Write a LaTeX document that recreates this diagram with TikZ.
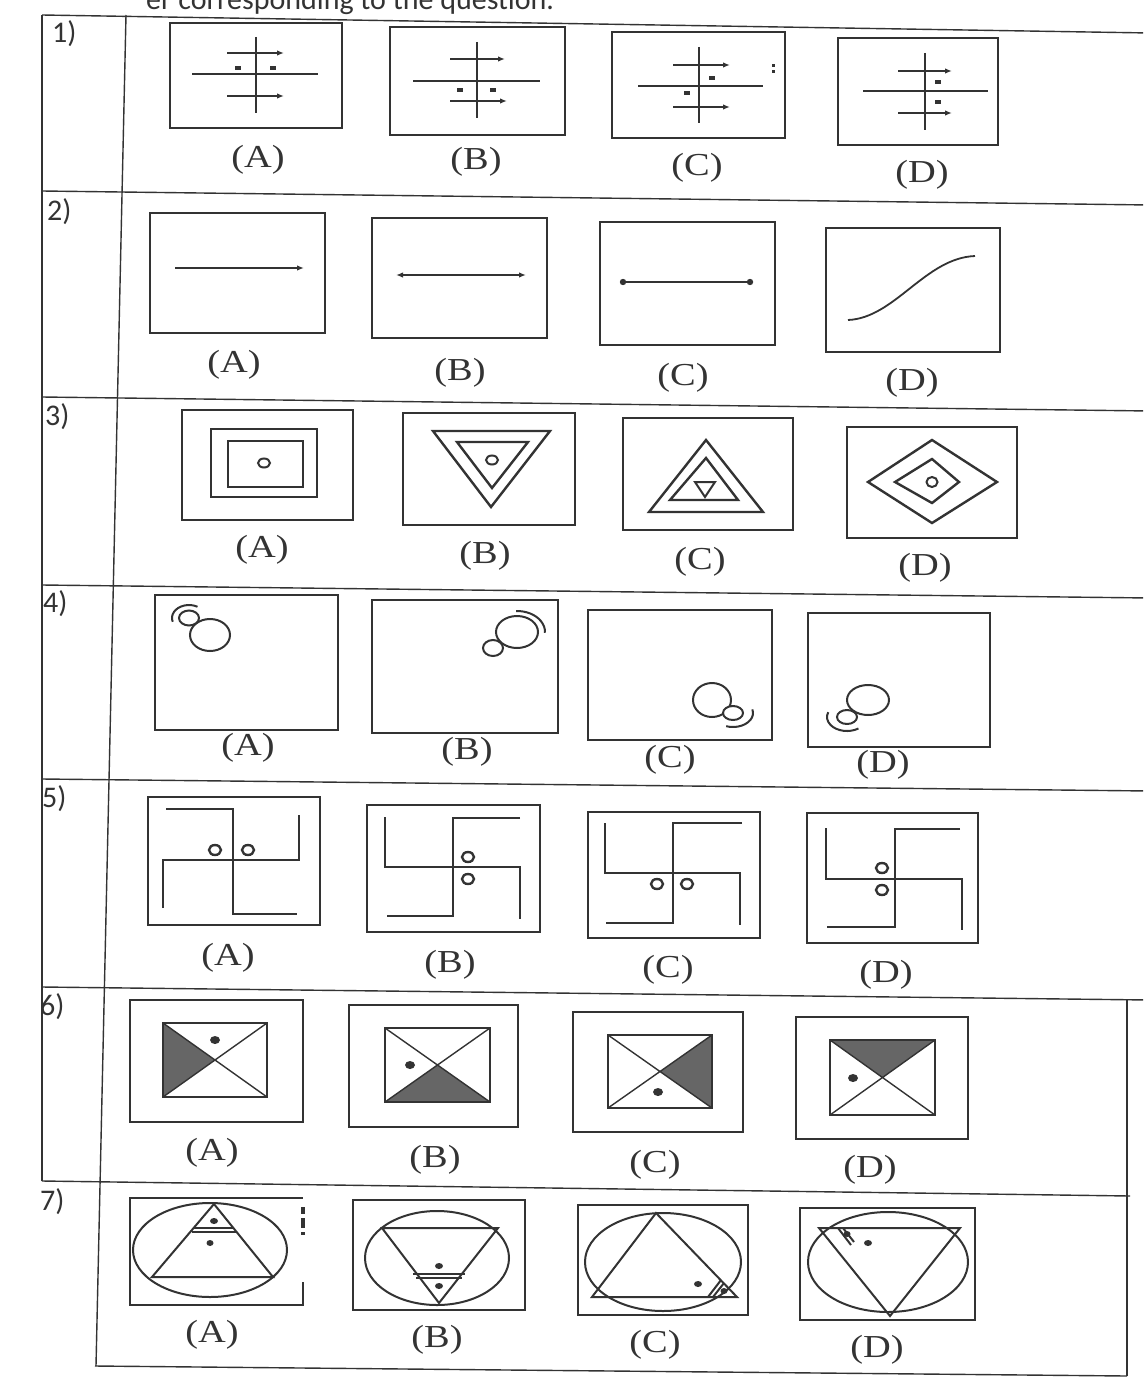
\documentclass[tikz,border=0pt]{standalone}
\usepackage{fontspec}
\setmainfont{Liberation Serif}
\newfontfamily\qfont{Carlito}
\usetikzlibrary{arrows.meta}

\tikzset{
  grid line/.style={draw=black!80, line width=1.4pt},
  frame/.style={draw=black!80, line width=2.3pt},
  fig/.style={draw=black!80, line width=2pt},
  tip/.style={-{Latex[length=7pt,width=5.5pt]}},
  spot/.style={fill=black!80},
  optlabel/.style={font=\fontsize{32}{32}\selectfont, text=black!80, xscale=1.2},
  rownum/.style={font=\qfont\fontsize{30}{30}\selectfont, anchor=north west, text=black!80, inner sep=0pt},
}

\begin{document}
\begin{tikzpicture}[x=1pt,y=-1pt]
\useasboundingbox (0,0) rectangle (1143,1389);
\begin{scope}
\clip (0,0) rectangle (1143,1389);

% --- HEADER ---
\node[font=\qfont\fontsize{30}{30}\selectfont, anchor=base west, text=black!80, inner sep=0pt] (head) at (146,10) {er corresponding to the question.};

% --- TABLE ---
 % rows
  \draw[grid line] (42,15) -- (1150,33);
  \draw[grid line] (42,191) -- (1150,205);
  \draw[grid line] (42,397) -- (1150,411);
  \draw[grid line] (42,585) -- (1150,598);
  \draw[grid line] (42,779) -- (1150,791);
  \draw[grid line] (42,987) -- (1150,1000);
  \draw[grid line] (42,1181) -- (1130,1196);
  \draw[grid line] (95,1366) -- (1127,1376);
 % columns
  \draw[grid line] (42,15) -- (42,1181);
  \draw[grid line] (126,15) -- (96,1366);
  \draw[grid line] (1127,1000) -- (1127,1376);

  % row numbers
  \foreach \n/\x/\y in {1/52/20, 2/47/198, 3/45/403, 4/43/590, 5/42/785, 6/40/993, 7/40/1188}
    \node[rownum] (num\n) at (\x,\y) {\n)};

% --- ROW 1 ---
 % frames
  \draw[frame] (170,23) rectangle (342,128);
  \draw[frame] (390,27) rectangle (565,135);
  \draw[frame] (612,32) rectangle (785,138);
  \draw[frame] (838,38) rectangle (998,145);
 % A
  \draw[fig] (256,37) -- (256,113);
  \draw[fig] (192,74) -- (318,74);
  \draw[fig, tip] (227,53) -- (284,53);
  \draw[fig, tip] (227,96) -- (284,96);
  \fill[spot] (235,66) rectangle (241,70);
  \fill[spot] (270,66) rectangle (276,70);
 % B
  \draw[fig] (477,42) -- (477,118);
  \draw[fig] (413,81) -- (540,81);
  \draw[fig, tip] (450,59) -- (505,59);
  \draw[fig, tip] (450,101) -- (507,101);
  \fill[spot] (457,88) rectangle (463,92);
  \fill[spot] (490,88) rectangle (496,92);
 % C
  \draw[fig] (699,47) -- (699,123);
  \draw[fig] (638,86) -- (763,86);
  \draw[fig, tip] (673,65) -- (730,65);
  \draw[fig, tip] (673,107) -- (730,107);
  \fill[spot] (709,76) rectangle (715,80);
  \fill[spot] (684,91) rectangle (690,95);
  \fill[spot] (772,64) rectangle (775,67);
  \fill[spot] (772,70) rectangle (775,73);
 % D
  \draw[fig] (925,53) -- (925,130);
  \draw[fig] (863,91) -- (988,91);
  \draw[fig, tip] (898,71) -- (952,71);
  \draw[fig, tip] (898,113) -- (952,113);
  \fill[spot] (935,80) rectangle (941,84);
  \fill[spot] (935,100) rectangle (941,104);

% --- ROW 2 ---
  \draw[frame] (150,213) rectangle (325,333);
  \draw[frame] (372,218) rectangle (547,338);
  \draw[frame] (600,222) rectangle (775,345);
  \draw[frame] (826,228) rectangle (1000,352);
  \draw[fig, line width=1.6pt, tip] (175,268) -- (304,268);
  \draw[fig, line width=1.6pt, {Latex[length=7pt,width=5.5pt]}-{Latex[length=7pt,width=5.5pt]}] (396,275) -- (526,275);
  \draw[fig, line width=1.6pt] (623,282) -- (750,282);
  \fill[spot] (623,282) circle (3.2);
  \fill[spot] (750,282) circle (3.2);
  \draw[fig, line width=1.8pt] (848,320) .. controls (895,318) and (925,258) .. (975,256);

% --- ROW 3 ---
  \draw[frame] (182,410) rectangle (353,520);
  \draw[frame] (403,413) rectangle (575,525);
  \draw[frame] (623,418) rectangle (793,530);
  \draw[frame] (847,427) rectangle (1017,538);
 % A
  \draw[fig, line width=2.4pt] (211,429) rectangle (317,497);
  \draw[fig, line width=2.4pt] (228,441) rectangle (303,487);
  \draw[fig] (264,463) ellipse [x radius=6, y radius=4.5];
 % B
  \draw[fig, line width=2.4pt] (433,431) -- (550,431) -- (491,507) -- cycle;
  \draw[fig, line width=2.4pt] (457,442) -- (528,442) -- (492,488) -- cycle;
  \draw[fig] (492,460) ellipse [x radius=6, y radius=4.5];
 % C
  \draw[fig, line width=2.4pt] (706,440) -- (763,512) -- (649,512) -- cycle;
  \draw[fig, line width=2.4pt] (706,458) -- (738,500) -- (670,500) -- cycle;
  \draw[fig] (695,482) -- (715,482) -- (705,497) -- cycle;
 % D
  \draw[fig, line width=2.4pt] (868,482) -- (932,440) -- (997,482) -- (932,523) -- cycle;
  \draw[fig, line width=2.4pt] (895,482) -- (932,459) -- (959,482) -- (932,503) -- cycle;
  \draw[fig] (932,482) ellipse [x radius=5.5, y radius=5];

% --- ROW 4 ---
  \draw[frame] (155,595) rectangle (338,730);
  \draw[frame] (372,600) rectangle (558,733);
  \draw[frame] (588,610) rectangle (772,740);
  \draw[frame] (808,613) rectangle (990,747);
 % A
  \draw[fig] (210,635) ellipse [x radius=20, y radius=16];
  \draw[fig, fill=white] (189,618) ellipse [x radius=10, y radius=7.5];
  \draw[fig] ([shift={(163:17 and 13)}]189,618) arc[start angle=163, end angle=300, x radius=17, y radius=13];
 % B
  \draw[fig] (517,632) ellipse [x radius=21, y radius=16];
  \draw[fig, fill=white] (493,648) ellipse [x radius=10, y radius=8];
  \draw[fig] ([shift={(268:28 and 21)}]517,632) arc[start angle=268, end angle=362, x radius=28, y radius=21];
 % C
  \draw[fig] (712,700) ellipse [x radius=19, y radius=17];
  \draw[fig, fill=white] (733,713) ellipse [x radius=10, y radius=7];
  \draw[fig] ([shift={(-15:20 and 14)}]733,713) arc[start angle=-15, end angle=110, x radius=20, y radius=14];
 % D
  \draw[fig] (868,700) ellipse [x radius=21, y radius=15];
  \draw[fig, fill=white] (847,717) ellipse [x radius=10, y radius=7];
  \draw[fig] ([shift={(55:20 and 14)}]847,717) arc[start angle=55, end angle=200, x radius=20, y radius=14];

% --- ROW 5 ---
  \draw[frame, line width=2.8pt] (148,797) rectangle (320,925);
  \draw[frame, line width=2.8pt] (367,805) rectangle (540,932);
  \draw[frame, line width=2.8pt] (588,812) rectangle (760,938);
  \draw[frame, line width=2.8pt] (807,813) rectangle (978,943);
 % A
  \draw[fig, line width=2.6pt] (166,809) -- (233,809) -- (233,914) -- (297,914);
  \draw[fig, line width=2.6pt] (163,908) -- (163,860) -- (299,860) -- (299,815);
  \draw[fig, line width=2.4pt] (215,850) ellipse [x radius=6, y radius=5];
  \draw[fig, line width=2.4pt] (248,850) ellipse [x radius=6, y radius=5];
 % B
  \draw[fig, line width=2.6pt] (520,818) -- (453,818) -- (453,916) -- (387,916);
  \draw[fig, line width=2.6pt] (385,817) -- (385,867) -- (520,867) -- (520,919);
  \draw[fig, line width=2.4pt] (468,857) ellipse [x radius=6, y radius=5];
  \draw[fig, line width=2.4pt] (468,879) ellipse [x radius=6, y radius=5];
 % C
  \draw[fig, line width=2.6pt] (742,823) -- (673,823) -- (673,923) -- (606,923);
  \draw[fig, line width=2.6pt] (605,823) -- (605,873) -- (740,873) -- (740,925);
  \draw[fig, line width=2.4pt] (657,884) ellipse [x radius=6, y radius=5];
  \draw[fig, line width=2.4pt] (687,884) ellipse [x radius=6, y radius=5];
 % D
  \draw[fig, line width=2.6pt] (960,829) -- (895,829) -- (895,927) -- (827,927);
  \draw[fig, line width=2.6pt] (826,828) -- (826,879) -- (962,879) -- (962,930);
  \draw[fig, line width=2.4pt] (882,868) ellipse [x radius=6, y radius=5];
  \draw[fig, line width=2.4pt] (882,890) ellipse [x radius=6, y radius=5];

% --- ROW 6 ---
  \draw[frame] (130,1000) rectangle (303,1122);
  \draw[frame] (349,1005) rectangle (518,1127);
  \draw[frame] (573,1012) rectangle (743,1132);
  \draw[frame] (796,1017) rectangle (968,1139);
 % A
  \fill[black!60] (163,1023) -- (215,1060) -- (163,1097) -- cycle;
  \draw[fig] (163,1023) rectangle (267,1097);
  \draw[fig, line width=1.4pt] (163,1023) -- (267,1097) (163,1097) -- (267,1023);
  \fill[spot] (215,1040) ellipse [x radius=5, y radius=4];
 % B
  \fill[black!60] (385,1102) -- (437.5,1065) -- (490,1102) -- cycle;
  \draw[fig] (385,1028) rectangle (490,1102);
  \draw[fig, line width=1.4pt] (385,1028) -- (490,1102) (385,1102) -- (490,1028);
  \fill[spot] (410,1065) ellipse [x radius=5, y radius=4];
 % C
  \fill[black!60] (712,1035) -- (660,1071.5) -- (712,1108) -- cycle;
  \draw[fig] (608,1035) rectangle (712,1108);
  \draw[fig, line width=1.4pt] (608,1035) -- (712,1108) (608,1108) -- (712,1035);
  \fill[spot] (658,1092) ellipse [x radius=5, y radius=4];
 % D
  \fill[black!60] (830,1040) -- (935,1040) -- (882.5,1077.5) -- cycle;
  \draw[fig] (830,1040) rectangle (935,1115);
  \draw[fig, line width=1.4pt] (830,1040) -- (935,1115) (830,1115) -- (935,1040);
  \fill[spot] (853,1078) ellipse [x radius=5, y radius=4];

% --- ROW 7 ---
 % frames
  \draw[frame] (303,1282) -- (303,1305) -- (130,1305) -- (130,1198) -- (303,1198);
  \fill[spot] (301,1207) rectangle (305,1214);
  \fill[spot] (301,1218) rectangle (305,1228);
  \fill[spot] (301,1232) rectangle (305,1235);
  \draw[frame] (353,1200) rectangle (525,1310);
  \draw[frame] (578,1205) rectangle (748,1315);
  \draw[frame] (800,1208) rectangle (975,1320);
 % A
  \draw[fig] (210,1250) ellipse [x radius=77, y radius=47];
  \draw[fig] (214,1204) -- (273,1277) -- (152,1277) -- cycle;
  \draw[fig] (194,1228) -- (234,1228);
  \draw[fig] (192,1232) -- (237,1232);
  \fill[spot] (214,1221) ellipse [x radius=4, y radius=3];
  \fill[spot] (210,1243) ellipse [x radius=3.5, y radius=3];
 % B
  \draw[fig] (437,1258) ellipse [x radius=72, y radius=47];
  \draw[fig] (382,1228) -- (498,1228) -- (439,1303) -- cycle;
  \draw[fig] (413,1274) -- (465,1274);
  \draw[fig] (416,1278) -- (462,1278);
  \fill[spot] (439,1266) ellipse [x radius=4, y radius=3];
  \fill[spot] (439,1286) ellipse [x radius=4, y radius=3];
 % C
  \draw[fig] (663,1262) ellipse [x radius=78, y radius=49];
  \draw[fig] (656,1213) -- (737,1297) -- (592,1297) -- cycle;
  \draw[fig] (708,1297) -- (721,1280);
  \draw[fig] (713,1297) -- (724,1283);
  \fill[spot] (724,1291) ellipse [x radius=3.5, y radius=3];
  \fill[spot] (698,1284) ellipse [x radius=4, y radius=3];
 % D
  \draw[fig] (888,1262) ellipse [x radius=80, y radius=50];
  \draw[fig] (819,1228) -- (960,1228) -- (890,1316) -- cycle;
  \draw[fig] (838,1228) -- (851,1245);
  \draw[fig] (843,1228) -- (854,1242);
  \fill[spot] (847,1234) ellipse [x radius=3.5, y radius=3];
  \fill[spot] (868,1243) ellipse [x radius=4, y radius=3];

% --- OPTION LABELS ---
  \foreach \x/\y/\t/\r in {258/160/A/1, 476/162/B/1, 697/168/C/1, 922/175/D/1,
                           234/365/A/2, 460/373/B/2, 683/378/C/2, 912/383/D/2,
                           262/550/A/3, 485/556/B/3, 700/562/C/3, 925/568/D/3,
                           248/748/A/4, 467/752/B/4, 670/760/C/4, 883/765/D/4,
                           228/958/A/5, 450/965/B/5, 668/970/C/5, 886/975/D/5,
                           212/1153/A/6, 435/1160/B/6, 655/1165/C/6, 870/1170/D/6,
                           212/1335/A/7, 437/1340/B/7, 655/1345/C/7, 877/1350/D/7}
    \node[optlabel] (opt\r\t) at (\x,\y) {(\t)};
\end{scope}
\end{tikzpicture}
\end{document}
